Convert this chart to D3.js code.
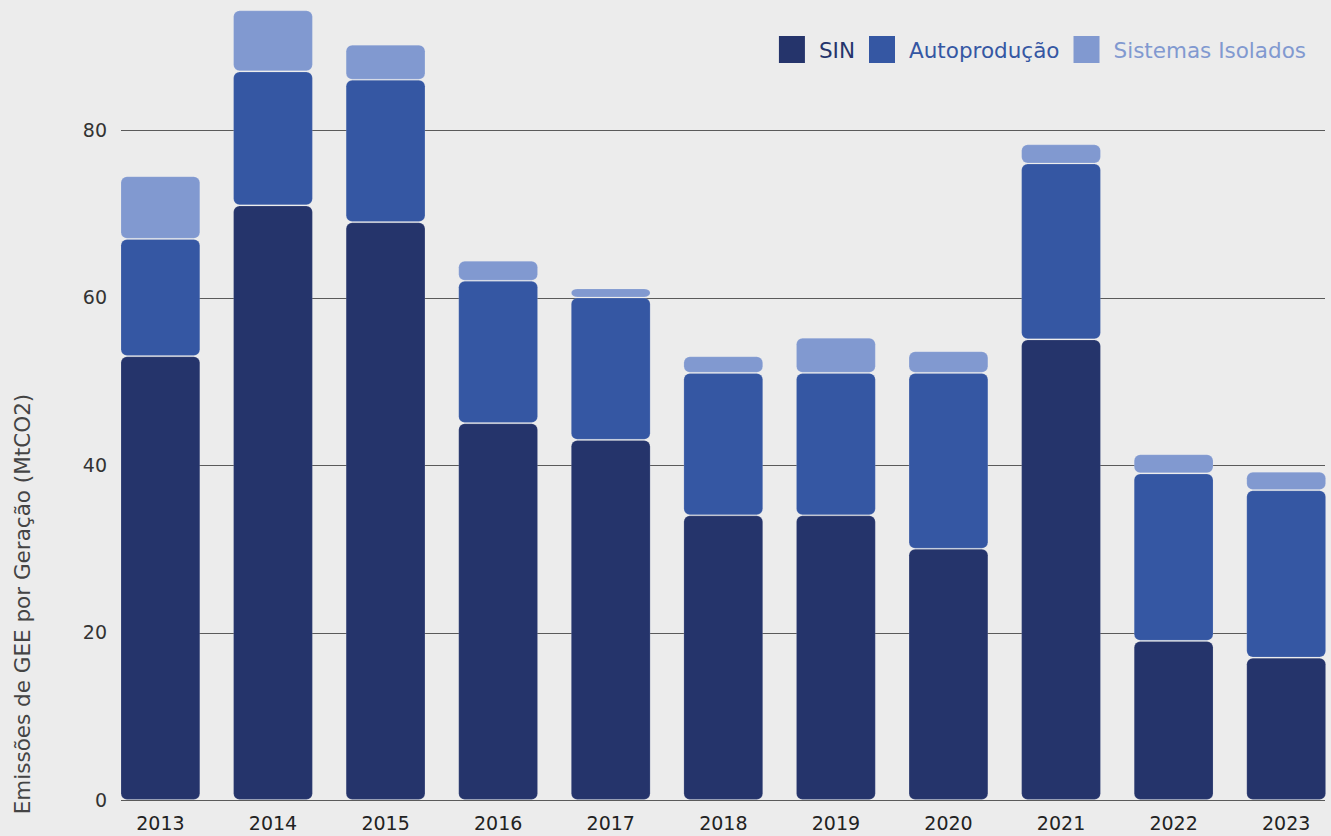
<!DOCTYPE html>
<html>
<head>
<meta charset="utf-8">
<script src="https://cdn.jsdelivr.net/npm/d3@7"></script>
<style>
  html, body { margin: 0; padding: 0; background: #ececec; }
  svg { display: block; }
  text { font-family: "DejaVu Sans", sans-serif; }
</style>
</head>
<body>
<svg id="chart" width="1331" height="836"></svg>
<script>
// Emissões de GEE por geração de eletricidade, por segmento (MtCO2)
const years = ["2013", "2014", "2015", "2016", "2017", "2018", "2019", "2020", "2021", "2022", "2023"];
const sin = [53, 71, 69, 45, 43, 34, 34, 30, 55, 19, 17];
const autoproducao = [14, 16, 17, 17, 17, 17, 17, 21, 21, 20, 20];
const sistemasIsolados = [7.5, 7.3, 4.2, 2.4, 1.1, 2.0, 4.2, 2.6, 2.3, 2.3, 2.2];
const seriesNames = ["SIN", "Autoprodução", "Sistemas Isolados"];
const yTicks = [0, 20, 40, 60, 80];

const colors = ["#25346b", "#3557a3", "#8199d0"];

const svg = d3.select("#chart");
const rows = years.map((y, i) => ({
  year: y,
  "SIN": sin[i],
  "Autoprodução": autoproducao[i],
  "Sistemas Isolados": sistemasIsolados[i]
}));
const stacked = d3.stack().keys(seriesNames)(rows);

const x = d3.scaleBand().domain(years).range([121, 1325.6]).paddingInner(0.3).paddingOuter(0);
const y = d3.scaleLinear().domain([0, 80]).range([800, 130]);

// horizontal grid lines
svg.append("g")
  .selectAll("line")
  .data(yTicks)
  .join("line")
  .attr("x1", 121).attr("x2", 1325)
  .attr("y1", d => Math.round(y(d)) + 0.5).attr("y2", d => Math.round(y(d)) + 0.5)
  .attr("stroke", "#5a5a5a").attr("stroke-width", 1);

// y axis tick labels
const yAxis = d3.axisLeft(y).tickValues(yTicks).tickSize(0).tickPadding(0);
svg.append("g")
  .attr("transform", "translate(107,0)")
  .call(yAxis)
  .call(g => g.select(".domain").remove())
  .call(g => g.selectAll("text")
    .attr("font-size", 19)
    .attr("font-family", "DejaVu Sans, sans-serif")
    .attr("fill", "#333"));

// x axis labels
const xAxis = d3.axisBottom(x).tickSize(0).tickPadding(16.5);
svg.append("g")
  .attr("transform", "translate(0,800)")
  .call(xAxis)
  .call(g => g.select(".domain").remove())
  .call(g => g.selectAll("text")
    .attr("font-size", 19)
    .attr("font-family", "DejaVu Sans, sans-serif")
    .attr("fill", "#222"));

// stacked bars, each segment with rounded corners and a hairline gap
svg.append("g")
  .selectAll("g")
  .data(stacked)
  .join("g")
  .attr("fill", (d, i) => colors[i])
  .selectAll("rect")
  .data(d => d)
  .join("rect")
  .attr("x", d => x(d.data.year))
  .attr("width", x.bandwidth())
  .attr("y", d => y(d[1]) + 0.6)
  .attr("height", d => Math.max(0, y(d[0]) - y(d[1]) - 1.2))
  .attr("rx", 6).attr("ry", 6)
  .attr("stroke", "rgba(255,255,255,0.14)")
  .attr("stroke-width", 1);

// y axis title
svg.append("text")
  .attr("transform", "translate(30,604) rotate(-90)")
  .attr("text-anchor", "middle")
  .attr("font-size", 21.5)
  .attr("fill", "#444")
  .text("Emissões de GEE por Geração (MtCO2)");

// legend, laid out then shifted so it ends at the right margin
const legend = svg.append("g");
let lx = 0;
seriesNames.forEach((name, i) => {
  legend.append("rect")
    .attr("x", lx).attr("y", 36).attr("width", 26).attr("height", 27)
    .attr("fill", colors[i]);
  const t = legend.append("text")
    .attr("x", lx + 40).attr("y", 57.5)
    .attr("font-size", 21.5)
    .attr("fill", colors[i])
    .text(name);
  lx += 40 + t.node().getComputedTextLength() + (i < seriesNames.length - 1 ? 14 : 0);
});
legend.attr("transform", `translate(${1306 - lx},0)`);
</script>
</body>
</html>
